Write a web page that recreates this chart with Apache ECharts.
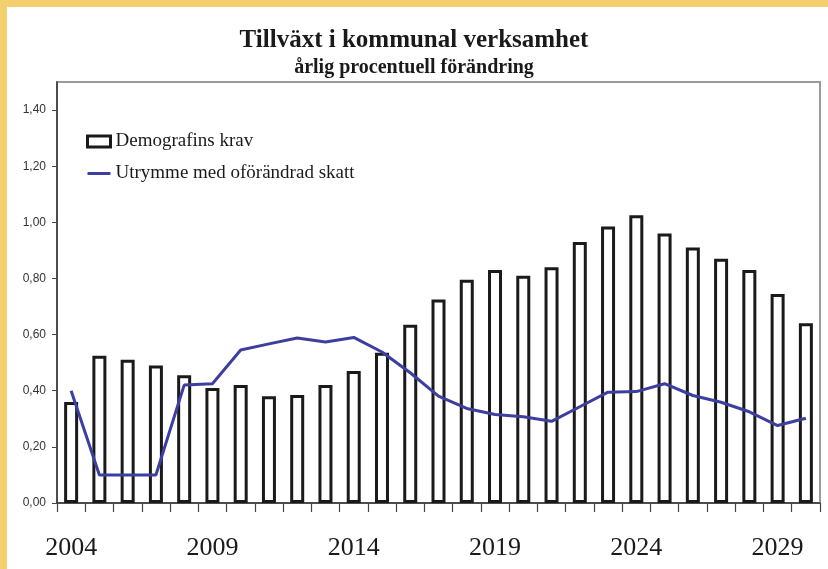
<!DOCTYPE html>
<html>
<head>
<meta charset="utf-8">
<script src="https://cdn.jsdelivr.net/npm/echarts@6/dist/echarts.min.js"></script>
<style>
  html, body { margin: 0; padding: 0; background: #fff; }
  #chart { width: 828px; height: 569px; }
</style>
</head>
<body>
<div id="chart"></div>
<script>
const years = ['2004','2005','2006','2007','2008','2009','2010','2011','2012','2013','2014','2015','2016','2017','2018','2019','2020','2021','2022','2023','2024','2025','2026','2027','2028','2029','2030'];
const demografinsKrav = [0.36, 0.525, 0.51, 0.49, 0.455, 0.41, 0.42, 0.38, 0.385, 0.42, 0.47, 0.535, 0.635, 0.725, 0.795, 0.83, 0.81, 0.84, 0.93, 0.985, 1.025, 0.96, 0.91, 0.87, 0.83, 0.745, 0.64];
const utrymme = [0.40, 0.10, 0.10, 0.10, 0.42, 0.425, 0.545, 0.567, 0.588, 0.574, 0.59, 0.538, 0.464, 0.381, 0.337, 0.315, 0.307, 0.291, 0.343, 0.395, 0.397, 0.425, 0.383, 0.359, 0.325, 0.276, 0.302];
const yMin = 0, yMax = 1.5, yStep = 0.2;

const chart = echarts.init(document.getElementById('chart'), null, { renderer: 'canvas' });
const serif = '"Liberation Serif", "DejaVu Serif", serif';
chart.setOption({
  backgroundColor: '#ffffff',
  animation: false,
  title: [
    { text: 'Tillväxt i kommunal verksamhet', left: 'center', top: 23,
      textStyle: { fontFamily: serif, fontWeight: 'bold', fontSize: 25, color: '#1a1a1a' } },
    { text: 'årlig procentuell förändring', left: 'center', top: 53,
      textStyle: { fontFamily: serif, fontWeight: 'bold', fontSize: 20, color: '#1a1a1a' } }
  ],
  legend: {
    orient: 'vertical', left: 81, top: 127, itemGap: 13,
    itemWidth: 23, itemHeight: 11,
    textStyle: { fontFamily: serif, fontSize: 19, color: '#1a1a1a' },
    data: [
      { name: 'Demografins krav', icon: 'rect', itemStyle: { color: '#fff', borderColor: '#1a1a1a', borderWidth: 3 } },
      { name: 'Utrymme med oförändrad skatt', icon: 'path://M0,0 L23,0 L23,3 L0,3 Z', itemStyle: { color: '#3d3f9f', borderWidth: 0 } }
    ]
  },
  grid: { left: 57, right: 8, top: 82, bottom: 66, show: true, borderColor: '#9a9a9a', borderWidth: 2, backgroundColor: 'transparent' },
  xAxis: {
    type: 'category', data: years, boundaryGap: true,
    axisLine: { lineStyle: { color: '#333', width: 1.5 } },
    axisTick: { show: true, interval: 0, length: 9, lineStyle: { color: '#444', width: 1.2 } },
    axisLabel: { interval: 4, margin: 32, fontFamily: serif, fontSize: 26, color: '#1a1a1a' }
  },
  yAxis: {
    type: 'value', min: yMin, max: yMax, interval: yStep,
    splitLine: { show: false },
    axisLine: { show: true, lineStyle: { color: '#333', width: 1.5 } },
    axisTick: { show: true, length: 5, lineStyle: { color: '#444' } },
    axisLabel: {
      margin: 11, fontFamily: '"Liberation Sans", Arial, sans-serif', fontSize: 12, color: '#333',
      showMaxLabel: false,
      formatter: function (v) { return v > 1.45 ? '' : v.toFixed(2).replace('.', ','); }
    }
  },
  series: [
    { name: 'Demografins krav', type: 'bar', data: demografinsKrav, barWidth: 14,
      itemStyle: { color: '#ffffff', borderColor: '#1a1a1a', borderWidth: 3 } },
    { name: 'Utrymme med oförändrad skatt', type: 'line', data: utrymme, symbol: 'none',
      lineStyle: { color: '#3d3f9f', width: 3 }, itemStyle: { color: '#3d3f9f' }, z: 3 }
  ],
  graphic: [
    { type: 'rect', shape: { x: 0, y: 0, width: 828, height: 7 }, style: { fill: '#f4cf6e' }, z: 100 },
    { type: 'rect', shape: { x: 0, y: 0, width: 7, height: 569 }, style: { fill: '#f4cf6e' }, z: 100 }
  ]
});
</script>
</body>
</html>
